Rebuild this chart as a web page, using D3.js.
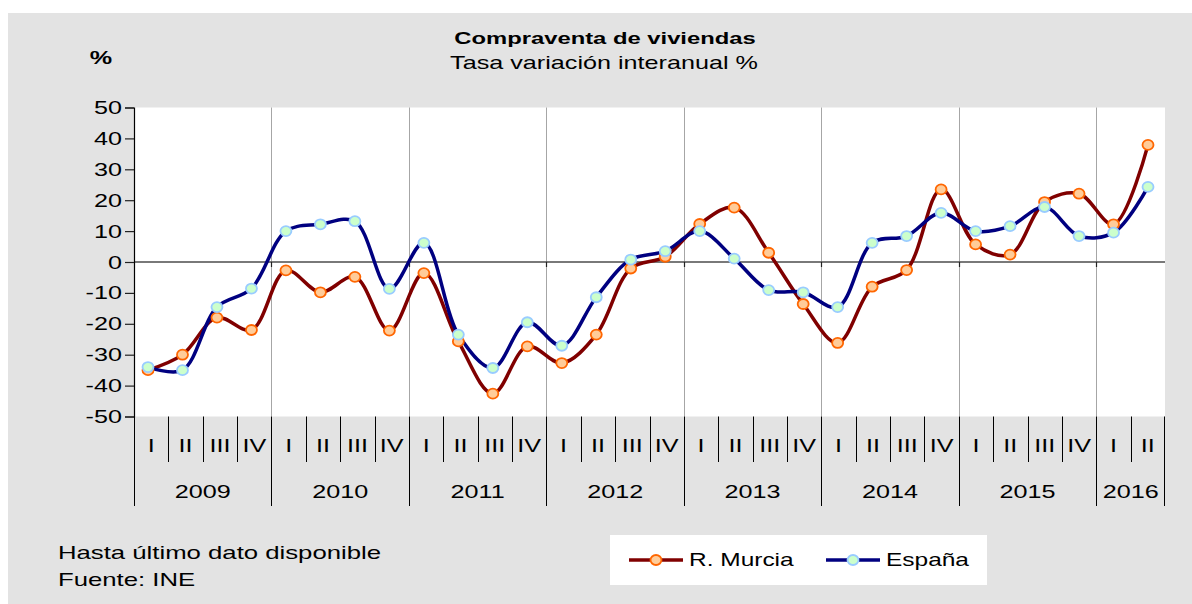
<!DOCTYPE html>
<html>
<head>
<meta charset="utf-8">
<script src="https://cdn.jsdelivr.net/npm/d3@7"></script>
<style>
  body { margin: 0; background: #fff; }
  text { font-family: "Liberation Sans", Arial, sans-serif; fill: #000; }
</style>
</head>
<body>
<svg id="chart"></svg>
<script>
const years = ["2009", "2010", "2011", "2012", "2013", "2014", "2015", "2016"];
const quarterNames = ["I", "II", "III", "IV"];
const quartersPerYear = [4, 4, 4, 4, 4, 4, 4, 2];

const murcia = [-35, -30, -18, -22, -2.7, -9.8, -4.8, -22.2, -3.6, -25.7, -42.6, -27.3,
    -32.7, -23.5, -2.1, 1.7, 12.3, 17.6, 3.0, -13.6, -26.2, -8.0, -2.6, 23.5,
    5.7, 2.4, 19.4, 22.1, 12.2, 37.9];
const espana = [-34, -35, -14.6, -8.6, 10, 12.2, 13.2, -8.7, 6.2, -23.5, -34.3, -19.5,
    -27.1, -11.4, 0.8, 3.5, 10, 1.1, -9.1, -9.8, -14.6, 6.2, 8.4, 15.9,
    10, 11.6, 17.8, 8.4, 9.5, 24.3];
const yTicks = [-50, -40, -30, -20, -10, 0, 10, 20, 30, 40, 50];

// category list (year + quarter)
const periods = [];
years.forEach((yr, i) => {
    for (let q = 0; q < quartersPerYear[i]; q++) periods.push({ year: yr, q: quarterNames[q] });
});

const W = 1192, H = 604;
const SX = 1.4; // text is stretched horizontally in the original

const svg = d3.select('#chart').attr('width', W).attr('height', H);

// background
svg.append('rect').attr('x', 8).attr('y', 13).attr('width', W - 8).attr('height', H - 13).attr('fill', '#e3e3e3');

const plotLeft = 134, plotRight = 1165, plotTop = 107.5, plotBottom = 416.5;

const x = d3.scaleBand().domain(d3.range(periods.length)).range([plotLeft, plotRight]);
const xp = d3.scalePoint().domain(d3.range(periods.length)).range([148, 1148]);
const y = d3.scaleLinear().domain([-50, 50]).range([plotBottom, plotTop]);

function label(g, txt, px, py, opts = {}) {
    const t = g.append('text')
        .attr('transform', `translate(${px},${py}) scale(${opts.sx || SX},1)`)
        .attr('text-anchor', opts.anchor || 'start')
        .style('font-size', (opts.size || 18) + 'px')
        .text(txt);
    if (opts.bold) t.style('font-weight', 'bold');
    return t;
}

// plot area
svg.append('rect').attr('x', plotLeft).attr('y', plotTop)
    .attr('width', plotRight - plotLeft).attr('height', plotBottom - plotTop).attr('fill', '#fff');

// year boundaries
let idx = 0;
const yearStarts = [];
quartersPerYear.forEach(n => { yearStarts.push(idx); idx += n; });

svg.append('g').selectAll('line')
    .data(yearStarts.slice(1))
    .enter().append('line')
    .attr('x1', d => Math.round(x(d)) + 0.5).attr('x2', d => Math.round(x(d)) + 0.5)
    .attr('y1', plotTop).attr('y2', plotBottom)
    .attr('stroke', '#a6a6a6').attr('stroke-width', 1);

// zero line + small ticks
svg.append('line')
    .attr('x1', plotLeft).attr('x2', plotRight)
    .attr('y1', y(0)).attr('y2', y(0))
    .attr('stroke', '#4d4d4d').attr('stroke-width', 1.5);
svg.append('g').selectAll('line')
    .data(yearStarts.slice(1))
    .enter().append('line')
    .attr('x1', d => Math.round(x(d)) + 0.5).attr('x2', d => Math.round(x(d)) + 0.5)
    .attr('y1', y(0)).attr('y2', y(0) + 5)
    .attr('stroke', '#222').attr('stroke-width', 1.2);

// y axis (plain hyphen for negatives, like the original)
const yAxis = svg.append('g')
    .attr('transform', `translate(${plotLeft},0)`)
    .call(d3.axisLeft(y).tickValues(yTicks).tickFormat(d => String(d)).tickSize(9).tickPadding(12));
yAxis.select('.domain').attr('stroke', '#000').attr('stroke-width', 1.2);
yAxis.selectAll('.tick line').attr('stroke', '#222').attr('stroke-width', 1.2);
yAxis.selectAll('.tick text')
    .attr('x', -12 / SX)
    .attr('dy', null)
    .attr('y', 6)
    .attr('transform', `scale(${SX},1)`)
    .style('font-size', '18px')
    .style('font-family', '"Liberation Sans", Arial, sans-serif')
    .attr('fill', '#000');

// category axis: quarter separators, labels, year separators and labels
const axisG = svg.append('g');
axisG.selectAll('line.q')
    .data(d3.range(periods.length).filter(i => !yearStarts.includes(i)))
    .enter().append('line').attr('class', 'q')
    .attr('x1', d => Math.round(x(d)) + 0.5).attr('x2', d => Math.round(x(d)) + 0.5)
    .attr('y1', plotBottom).attr('y2', 462)
    .attr('stroke', '#000').attr('stroke-width', 1);
axisG.selectAll('line.yr')
    .data(yearStarts.concat([periods.length]))
    .enter().append('line').attr('class', 'yr')
    .attr('x1', d => d === periods.length ? plotRight - 0.5 : Math.round(x(d)) + 0.5)
    .attr('x2', d => d === periods.length ? plotRight - 0.5 : Math.round(x(d)) + 0.5)
    .attr('y1', plotBottom).attr('y2', 506)
    .attr('stroke', '#000').attr('stroke-width', 1);

periods.forEach((p, i) => {
    label(axisG, p.q, x(i) + x.bandwidth() / 2, 452, { anchor: 'middle', size: 18 });
});
years.forEach((yr, i) => {
    const s = yearStarts[i];
    const e = s + quartersPerYear[i];
    const cx = (x(s) + (e < periods.length ? x(e) : plotRight)) / 2;
    label(axisG, yr, cx, 498, { anchor: 'middle', size: 18 });
});

// series
const line = d3.line()
    .x((d, i) => xp(i))
    .y(d => y(d))
    .curve(d3.curveCatmullRom.alpha(0.5));

const series = [
    { name: 'R. Murcia', values: murcia, color: '#800000', fill: '#ffcc99', stroke: '#ff6600' },
    { name: 'España', values: espana, color: '#000080', fill: '#ccffcc', stroke: '#99ccff' }
];

series.forEach(s => {
    svg.append('path')
        .datum(s.values)
        .attr('d', line)
        .attr('fill', 'none')
        .attr('stroke', s.color)
        .attr('stroke-width', 3.5)
        .attr('stroke-linejoin', 'round');
});
series.forEach(s => {
    svg.append('g').selectAll('ellipse')
        .data(s.values)
        .enter().append('ellipse')
        .attr('cx', (d, i) => xp(i))
        .attr('cy', d => y(d))
        .attr('rx', 5.5).attr('ry', 5)
        .attr('fill', s.fill)
        .attr('stroke', s.stroke)
        .attr('stroke-width', 1.8);
});

// titles
label(svg, 'Compraventa de viviendas', 605, 44, { anchor: 'middle', size: 17, bold: true });
label(svg, 'Tasa variación interanual %', 604, 69, { anchor: 'middle', size: 18 });
label(svg, '%', 101, 64, { anchor: 'middle', size: 18, bold: true });

// footer
label(svg, 'Hasta último dato disponible', 58, 559, { size: 18, sx: 1.43 });
label(svg, 'Fuente: INE', 58, 586, { size: 18, sx: 1.43 });

// legend
const lg = svg.append('g');
lg.append('rect').attr('x', 610).attr('y', 535).attr('width', 377).attr('height', 50).attr('fill', '#fff');
const legendItems = [
    { s: series[0], x1: 629, x2: 683, tx: 689 },
    { s: series[1], x1: 826, x2: 880, tx: 886 }
];
legendItems.forEach(it => {
    lg.append('line')
        .attr('x1', it.x1).attr('x2', it.x2).attr('y1', 560).attr('y2', 560)
        .attr('stroke', it.s.color).attr('stroke-width', 3.5);
    lg.append('ellipse')
        .attr('cx', (it.x1 + it.x2) / 2).attr('cy', 560)
        .attr('rx', 5.5).attr('ry', 5)
        .attr('fill', it.s.fill).attr('stroke', it.s.stroke).attr('stroke-width', 1.8);
    label(lg, it.s.name, it.tx, 566, { size: 18, sx: 1.36 });
});
</script>
</body>
</html>
